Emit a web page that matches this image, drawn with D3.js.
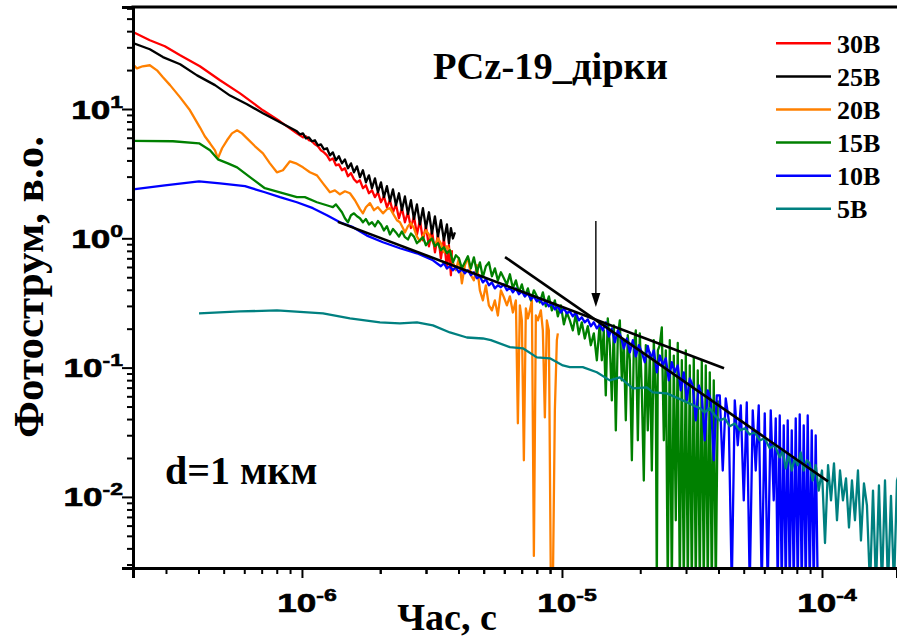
<!DOCTYPE html>
<html><head><meta charset="utf-8">
<script src="https://cdn.jsdelivr.net/npm/d3@7"></script>
<style>body{margin:0;background:#fff}svg{display:block}</style>
</head><body>
<svg id="chart" width="897" height="643"></svg>
<script>
// times in microseconds, values in arbitrary units (в.о.)
const TIME_UNIT = 1e-6;
const series30 = [[0.224,39.4],[0.260,34.0],[0.297,30.6],[0.340,26.0],[0.405,21.4],[0.484,16.7],[0.578,13.2],[0.708,9.77],[0.823,8.03],[0.956,6.48],
[0.982,6.26],[1.009,6.04],[1.036,6.15],[1.064,5.73],[1.092,5.63],[1.122,5.33],[1.152,5.15],[1.183,4.79],[1.215,4.62],[1.248,4.38],
[1.281,4.01],[1.315,4.15],[1.351,3.67],[1.387,3.73],[1.425,3.36],[1.463,3.48],[1.503,3.02],[1.544,3.19],[1.585,2.86],[1.628,2.71],
[1.671,2.81],[1.716,2.44],[1.762,2.57],[1.810,2.23],[1.859,2.35],[1.909,2.08],[1.960,2.27],[2.013,1.90],[2.067,2.11],[2.122,1.74],
[2.180,1.97],[2.239,1.59],[2.299,1.83],[2.361,1.43],[2.424,1.71],[2.489,1.33],[2.556,1.59],[2.625,1.20],[2.696,1.48],[2.768,1.07],
[2.843,1.38],[2.919,0.966],[2.998,1.24],[3.079,0.868],[3.162,1.15],[3.247,0.780],[3.334,1.07],[3.423,0.701],[3.515,0.997],[3.610,0.586],
[3.674,0.884],[3.740,0.518],[3.773,0.808]];
const series25 = [[0.224,32.4],[0.260,29.0],[0.292,25.2],[0.340,22.2],[0.395,18.2],[0.463,15.3],[0.529,12.7],[0.615,10.9],[0.708,9.26],[0.823,7.89],[0.956,6.72],
[0.982,6.37],[1.009,6.48],[1.036,5.93],[1.064,6.04],[1.092,5.63],[1.122,5.73],[1.152,5.24],[1.183,5.33],[1.215,4.88],[1.248,4.97],
[1.281,4.38],[1.315,4.62],[1.351,4.01],[1.387,4.31],[1.425,3.80],[1.463,4.08],[1.503,3.48],[1.544,3.80],[1.585,3.24],[1.628,3.60],
[1.671,2.97],[1.716,3.36],[1.762,2.71],[1.810,3.07],[1.859,2.44],[1.909,2.91],[1.960,2.27],[2.013,2.71],[2.067,2.08],[2.122,2.53],
[2.180,1.93],[2.239,2.39],[2.299,1.80],[2.361,2.23],[2.424,1.65],[2.489,2.11],[2.556,1.54],[2.625,1.97],[2.696,1.41],[2.768,1.83],
[2.843,1.28],[2.919,1.71],[2.998,1.20],[3.079,1.59],[3.162,1.09],[3.247,1.48],[3.334,1.03],[3.423,1.38],[3.515,0.966],[3.610,1.28],
[3.674,0.916],[3.740,1.20],[3.807,0.997],[3.875,1.11]];
const series20 = [[0.224,22.2],[0.232,20.6],[0.244,21.4],[0.260,21.8],[0.277,19.9],[0.292,17.6],[0.311,15.3],[0.340,12.3],[0.371,9.77],[0.405,7.22],
[0.423,6.15],[0.443,5.43],[0.463,4.79],[0.475,4.15],[0.493,4.97],[0.515,5.73],[0.538,6.48],[0.563,6.84],[0.588,6.48],[0.615,5.93],
[0.660,5.15],[0.708,4.54],[0.753,3.80],[0.801,3.24],[0.845,3.36],[0.899,3.94],[0.948,3.80],[1.009,3.54],[1.073,3.24],[1.142,3.07],
[1.205,2.66],[1.281,2.27],[1.339,2.35],[1.400,2.19],[1.463,2.31],[1.530,2.23],[1.599,1.97],[1.671,1.68],[1.716,1.56],[1.762,1.74],
[1.826,1.87],[1.892,1.65],[1.960,1.74],[2.049,1.56],[2.122,1.68],[2.180,1.71],[2.258,1.51],[2.319,1.38],[2.381,1.33],[2.445,1.20],
[2.489,1.11],[2.556,1.24],[2.625,1.31],[2.696,1.20],[2.768,1.03],[2.843,0.949],[2.919,1.05],[2.998,1.15],[3.079,1.07],[3.162,0.966],
[3.247,0.868],[3.334,0.997],[3.423,0.916],[3.515,0.780],[3.610,0.868],[3.707,0.808],[3.807,0.652],[3.909,0.566],[4.014,0.701],[4.122,0.448],
[4.233,0.619],[4.347,0.713],[4.464,0.518],[4.584,0.473],[4.708,0.619],[4.834,0.396],[4.964,0.331],[5.097,0.433],[5.235,0.303],[5.377,0.277],
[5.521,0.331],[5.669,0.253],[5.822,0.396],[5.979,0.350],[6.140,0.303],[6.305,0.356],[6.475,0.267],[6.649,0.331],[6.767,0.0371],[6.888,0.303],
[7.011,0.232],[7.136,0.0192],[7.263,0.287],[7.393,0.240],[7.526,0.277],[7.661,0.331],[7.797,0.0035],[7.936,0.253],[8.078,0.232],[8.295,0.277],
[8.443,0.194],[8.594,0.0412],[8.747,0.232],[8.904,0.194],[9.063,0.002],[9.225,0.002],[9.390,0.0467],[9.557,0.163],[9.641,0.184]];
const series15 = [[0.224,5.66],[0.319,5.63],[0.402,5.43],[0.443,4.79],[0.475,4.08],[0.519,3.80],[0.563,3.54],[0.631,2.97],[0.720,2.44],[0.823,2.27],
[0.956,2.08],[1.026,2.08],[1.142,1.90],
[1.281,1.77],[1.315,1.74],[1.351,1.83],[1.387,1.71],[1.425,1.59],[1.463,1.43],[1.503,1.33],[1.544,1.51],[1.585,1.56],[1.628,1.48],
[1.671,1.43],[1.716,1.33],[1.762,1.41],[1.810,1.28],[1.859,1.33],[1.909,1.24],[1.960,1.36],[2.013,1.28],[2.067,1.15],[2.122,1.24],
[2.180,1.07],[2.239,1.18],[2.299,1.11],[2.361,1.03],[2.424,1.13],[2.489,1.02],[2.556,0.980],[2.625,1.09],[2.696,1.03],[2.768,0.916],
[2.843,0.966],[2.919,1.02],[2.998,0.884],[3.079,0.949],[3.162,0.997],[3.247,0.868],[3.334,0.916],[3.423,0.808],[3.515,0.853],[3.610,0.766],
[3.707,0.808],[3.807,0.652],[3.909,0.739],[4.014,0.701],[4.122,0.586],[4.233,0.652],[4.347,0.726],[4.464,0.586],[4.584,0.713],[4.708,0.546],
[4.834,0.652],[4.964,0.500],[5.097,0.608],[5.235,0.652],[5.377,0.509],[5.521,0.586],[5.669,0.473],[5.822,0.546],[5.979,0.491],[6.140,0.440],
[6.305,0.527],[6.475,0.410],[6.649,0.473],[6.828,0.382],[7.011,0.440],[7.200,0.356],[7.393,0.410],[7.593,0.331],[7.797,0.396],[8.007,0.356],
[8.222,0.319],[8.443,0.382],[8.670,0.298],[8.904,0.356],[9.144,0.277],[9.390,0.331],[9.641,0.249],[9.901,0.303],[10.17,0.216],[10.44,0.267],
[10.72,0.232],[11.01,0.194],[11.30,0.258],[11.61,0.181],[11.92,0.224],[12.24,0.168],[12.57,0.209],[12.91,0.149],[13.26,0.184],[13.62,0.114],
[13.98,0.224],[14.23,0.114],[14.48,0.194],[14.74,0.0610],[15.00,0.240],[15.28,0.149],[15.55,0.0558],[15.83,0.212],[16.11,0.0327],[16.40,0.178],
[16.69,0.232],[16.99,0.0797],[17.29,0.163],[17.60,0.0391],[17.91,0.178],[18.24,0.114],[18.57,0.0192],[18.90,0.149],[19.23,0.194],[19.58,0.0274],
[19.92,0.184],[20.28,0.0667],[20.64,0.0134],[21.01,0.149],[21.38,0.0327],[21.77,0.131],[22.16,0.0160],[22.55,0.163],[22.96,0.0558],[23.16,0.002],
[23.37,0.136],[23.78,0.149],[24.21,0.205],[24.64,0.0274],[25.08,0.136],[25.52,0.002],[25.98,0.163],[26.45,0.002],[26.92,0.124],[27.40,0.0066],
[27.88,0.155],[28.39,0.002],[28.90,0.114],[29.41,0.002],[29.94,0.136],[30.47,0.002],[31.01,0.104],[31.57,0.002],[32.13,0.120],[32.70,0.002],
[33.28,0.0953],[33.88,0.002],[34.49,0.114],[35.10,0.002],[35.73,0.104],[36.36,0.002],[37.02,0.0920],[37.68,0.002],[38.35,0.0797],[39.04,0.002],
[39.73,0.0558]];
const series10 = [[0.224,2.39],[0.297,2.57],[0.402,2.76],[0.484,2.66],[0.604,2.53],[0.720,2.27],[0.823,2.08],[0.956,1.90],[1.102,1.71],[1.248,1.51],
[1.400,1.33],[1.571,1.22],[1.778,1.05],[2.049,0.932],[2.381,0.838],[2.768,0.766],[3.190,0.676],
[3.423,0.608],[3.515,0.641],[3.610,0.586],[3.707,0.608],[3.807,0.566],[3.909,0.597],[4.014,0.546],[4.122,0.576],[4.233,0.537],[4.347,0.566],
[4.464,0.518],[4.584,0.546],[4.708,0.491],[4.834,0.509],[4.964,0.456],[5.097,0.482],[5.235,0.433],[5.377,0.456],[5.521,0.410],[5.669,0.433],
[5.822,0.418],[5.979,0.440],[6.140,0.396],[6.305,0.418],[6.475,0.382],[6.649,0.410],[6.828,0.369],[7.011,0.389],[7.200,0.356],[7.393,0.375],
[7.593,0.337],[7.797,0.356],[8.007,0.325],[8.222,0.343],[8.443,0.308],[8.670,0.325],[8.904,0.298],[9.144,0.314],[9.390,0.282],[9.641,0.298],
[9.901,0.267],[10.17,0.287],[10.44,0.263],[10.72,0.272],[11.01,0.249],[11.30,0.267],[11.61,0.232],[11.92,0.245],[12.24,0.224],[12.57,0.236],
[12.91,0.209],[13.26,0.224],[13.62,0.201],[13.98,0.216],[14.36,0.194],[14.74,0.224],[15.14,0.174],[15.55,0.201],[15.97,0.157],[16.40,0.194],
[16.84,0.174],[17.29,0.141],[17.76,0.168],[18.24,0.131],[18.73,0.163],[19.23,0.122],[19.75,0.149],[20.28,0.131],[20.82,0.110],[21.38,0.147],
[21.96,0.118],[22.55,0.136],[23.16,0.0920],[23.78,0.124],[24.42,0.104],[25.08,0.118],[25.75,0.0797],[26.45,0.110],[27.16,0.0920],[27.88,0.104],
[28.64,0.0667],[29.41,0.0920],[30.20,0.0558],[31.01,0.0826],[31.84,0.0729],[32.70,0.0391],[33.58,0.0729],[34.49,0.0610],[35.41,0.0274],[36.36,0.0667],
[37.35,0.0558],[38.35,0.0192],[39.39,0.0610],[40.44,0.0610],[41.53,0.0160],[42.64,0.0578],[43.79,0.0391],[44.98,0.002],[46.19,0.0558],[47.43,0.0251],
[48.71,0.0511],[50.02,0.0094],[51.37,0.0538],[52.74,0.002],[54.16,0.0467],[55.61,0.0160],[57.11,0.0511],[58.65,0.002],[60.23,0.0443],[61.84,0.002],
[63.52,0.0467],[65.23,0.0094],[66.39,0.0405],[67.57,0.002],[68.78,0.0427],[70.01,0.002],[71.26,0.0358],[72.53,0.002],[73.82,0.0391],[75.15,0.002],
[76.50,0.0327],[77.86,0.002],[79.25,0.0405],[80.66,0.002],[82.10,0.0435],[83.57,0.002],[85.06,0.0358],[86.57,0.002],[88.12,0.0427],[89.70,0.002],
[91.31,0.0327],[92.93,0.002],[94.59,0.0299],[96.27,0.002]];
const series5 = [[0.402,0.263],[0.578,0.272],[0.801,0.277],[1.205,0.263],[1.530,0.240],[1.995,0.224],[2.381,0.220],[2.768,0.224],[3.190,0.212],[3.707,0.187],
[4.309,0.171],[4.964,0.168],[5.329,0.163],[6.305,0.144],[7.073,0.141],[8.007,0.120],[8.983,0.118],[10.08,0.104],[10.72,0.101],[12.02,0.101],
[13.62,0.0920],[15.28,0.0797],[16.69,0.0841],[18.73,0.0691],[21.19,0.0704],[22.36,0.0643],[25.30,0.0632],[29.15,0.0558],[33.88,0.0485],
[35.41,0.0451],[37.02,0.0485],[38.70,0.0427],[40.44,0.0391],[42.27,0.0405],[44.19,0.0352],[46.19,0.0370],[48.28,0.0327],[50.47,0.0339],[52.74,0.0304],
[55.13,0.0316],[57.62,0.0274],[60.23,0.0284],[62.96,0.0238],[65.81,0.0251],[68.78,0.0202],[70.63,0.0229],[72.53,0.0166],[74.48,0.0210],[76.50,0.0160],
[78.55,0.0199],[80.66,0.0176],[82.83,0.0221],[85.06,0.0160],[87.35,0.0192],[89.70,0.0182],[92.11,0.0134],[94.59,0.0176],[97.14,0.0112],[100.0,0.0160],
[102.7,0.0044],[105.5,0.0176],[108.3,0.0094],[111.2,0.0182],[114.2,0.0066],[117.3,0.0160],[120.4,0.0094],[123.7,0.0139],[127.0,0.0058],[130.4,0.0134],
[133.9,0.0066],[137.5,0.0160],[141.2,0.0046],[145.0,0.0127],[148.9,0.0086],[153.0,0.002],[157.1,0.0112],[161.3,0.002],[165.6,0.0123],[170.1,0.002],
[174.7,0.0134],[179.4,0.002],[184.2,0.0102],[189.2,0.002],[194.3,0.0134],[199.5,0.0160]];

const seriesNames = ["30В","25В","20В","15В","10В","5В"];
const seriesColors = ["#ff0000","#000000","#ff8000","#008000","#0000ff","#008080"];
const seriesData = [series30, series25, series20, series15, series10, series5];

// fitted power-law segments (time in s, value)
const fitShallow = [[1.375e-6,1.34],[4.2e-5,0.099]];
const fitSteep = [[6.04e-6,0.716],[1.055e-4,0.0132]];
const arrowMark = {t:1.35e-5, from:1.36, to:0.294};

const xMajor = [1e-6,1e-5,1e-4];
const xExpLabels = ["-6","-5","-4"];
const yMajor = [1e-2,1e-1,1,10];
const yExpLabels = ["-2","-1","0","1"];

const title = "PCz-19_дірки";
const note = "d=1 мкм";
const xTitle = "Час, с";
const yTitle = "Фотострум, в.о.";

const svg = d3.select("#chart");
const L=133, R=897, T=7, B=568;
const x = d3.scaleLog().domain([2.24e-7,1.943e-4]).range([L,R]);
const y = d3.scaleLog().domain([0.00282,61.5]).range([B,T]);

function minors(major, lo, hi){
  const out=[];
  const decades=[...major.map(m=>m/10), ...major];
  decades.forEach(d=>{for(let k=2;k<=9;k++){const v=d*k; if(v>lo && v<hi && !out.includes(v)) out.push(v);}});
  return out;
}
const xMinor = minors(xMajor, 2.24e-7, 1.943e-4);
const yMinor = minors(yMajor, 0.00282, 61.5);

svg.append("defs").append("clipPath").attr("id","clip")
  .append("rect").attr("x",L).attr("y",T).attr("width",R-L).attr("height",B-T);

const line = d3.line().x(d=>x(d[0]*TIME_UNIT)).y(d=>y(d[1]));
const g = svg.append("g").attr("clip-path","url(#clip)");
seriesData.forEach((s,i)=>{
  g.append("path").datum(s).attr("d",line).attr("fill","none")
   .attr("stroke",seriesColors[i]).attr("stroke-width",2.3).attr("stroke-linejoin","round");
});
const fitLine = d3.line().x(d=>x(d[0])).y(d=>y(d[1]));
[fitShallow, fitSteep].forEach(f=>{
  g.append("path").datum(f).attr("d",fitLine).attr("fill","none").attr("stroke","#000").attr("stroke-width",2.6);
});
// arrow
const ax = x(arrowMark.t), ay0 = y(arrowMark.from), ay1 = y(arrowMark.to);
svg.append("line").attr("x1",ax).attr("x2",ax).attr("y1",ay0).attr("y2",ay1-10).attr("stroke","#000").attr("stroke-width",1.4);
svg.append("path").attr("d",`M${ax-4.5},${ay1-14}L${ax+4.5},${ay1-14}L${ax},${ay1}Z`).attr("fill","#000");

// axes
const xAxisMaj = d3.axisBottom(x).tickValues(xMajor).tickSize(10).tickFormat("");
const xAxisMin = d3.axisBottom(x).tickValues(xMinor).tickSize(6).tickFormat("");
const yAxisMaj = d3.axisLeft(y).tickValues(yMajor).tickSize(11).tickFormat("");
const yAxisMin = d3.axisLeft(y).tickValues(yMinor).tickSize(6).tickFormat("");
[[xAxisMaj,`translate(0,${B})`],[xAxisMin,`translate(0,${B})`],[yAxisMaj,`translate(${L},0)`],[yAxisMin,`translate(${L},0)`]].forEach(([a,tr])=>{
  const ga = svg.append("g").attr("transform",tr).call(a);
  ga.select(".domain").attr("stroke","#000").attr("stroke-width",3);
  ga.selectAll(".tick line").attr("stroke","#000").attr("stroke-width",2);
});
svg.append("line").attr("x1",L-1.5).attr("x2",R).attr("y1",T).attr("y2",T).attr("stroke","#000").attr("stroke-width",3);

// tick labels
const tickFont = "'Liberation Sans', Arial, sans-serif";
yMajor.forEach((v,i)=>{
  const t = svg.append("text").attr("transform",`translate(123,${y(v)+9.5}) scale(1.35,1)`)
    .attr("text-anchor","end").attr("font-family",tickFont).attr("font-weight","bold").attr("font-size",26)
    .attr("stroke","#000").attr("stroke-width",0.6);
  t.append("tspan").text("10");
  t.append("tspan").attr("dy",-11).attr("font-size",17).text(yExpLabels[i]);
});
xMajor.forEach((v,i)=>{
  const t = svg.append("text").attr("transform",`translate(${x(v)+5},${612}) scale(1.35,1)`)
    .attr("text-anchor","middle").attr("font-family",tickFont).attr("font-weight","bold").attr("font-size",26)
    .attr("stroke","#000").attr("stroke-width",0.6);
  t.append("tspan").text("10");
  t.append("tspan").attr("dy",-11).attr("font-size",17).text(xExpLabels[i]);
});

const serif = "'Liberation Serif','Times New Roman',serif";
svg.append("text").attr("x",447).attr("y",630).attr("text-anchor","middle")
  .attr("font-family",serif).attr("font-weight","bold").attr("font-size",38).text(xTitle);
svg.append("text").attr("transform","translate(43,287) rotate(-90)").attr("text-anchor","middle")
  .attr("font-family",serif).attr("font-weight","bold").attr("font-size",43).text(yTitle);
svg.append("text").attr("x",433).attr("y",79).attr("font-family",serif).attr("font-weight","bold").attr("font-size",38.5).text(title);
svg.append("text").attr("x",165).attr("y",484).attr("font-family",serif).attr("font-weight","bold").attr("font-size",40).text(note);

// legend
seriesNames.forEach((n,i)=>{
  const ly = 43.3 + i*33.1;
  svg.append("line").attr("x1",776).attr("x2",831).attr("y1",ly).attr("y2",ly)
    .attr("stroke",seriesColors[i]).attr("stroke-width",2.5);
  svg.append("text").attr("x",837).attr("y",ly+9.5).attr("font-family",serif).attr("font-weight","bold")
    .attr("font-size",26).text(n);
});
</script>
</body></html>
